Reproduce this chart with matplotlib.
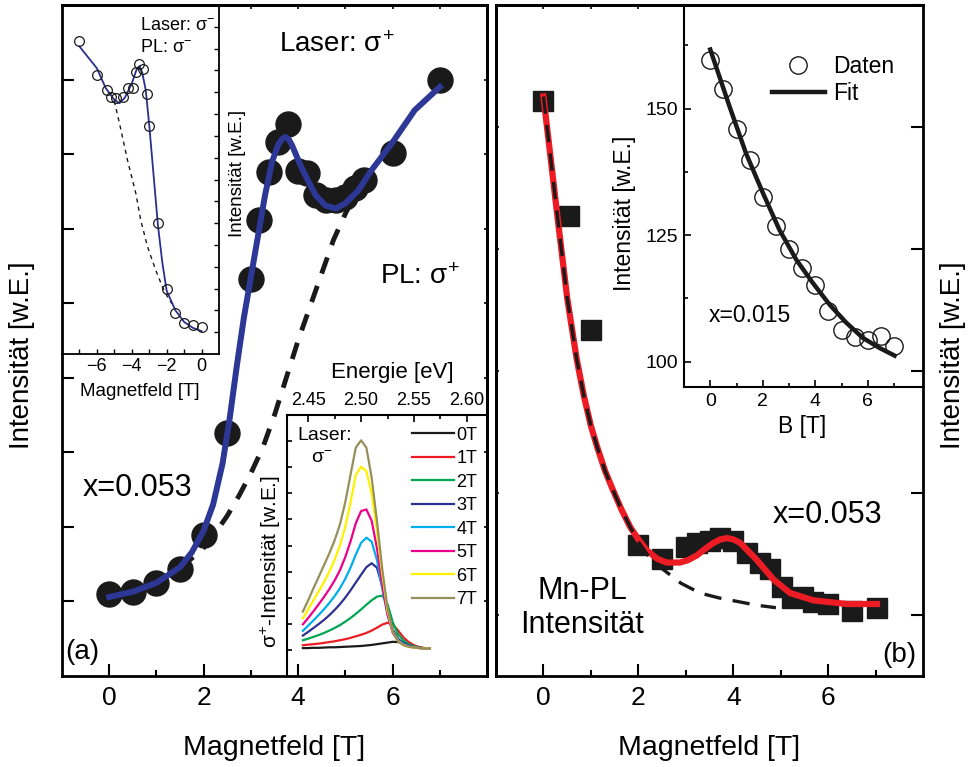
import matplotlib
matplotlib.use('Agg')
import matplotlib.pyplot as plt

plt.rcParams['font.family'] = ['Liberation Sans', 'DejaVu Sans']
plt.rcParams['mathtext.fontset'] = 'custom'
plt.rcParams['mathtext.rm'] = 'Liberation Sans'
plt.rcParams['mathtext.it'] = 'Liberation Sans'
plt.rcParams['mathtext.sf'] = 'Liberation Sans'

W, H = 974, 767

# ---- (a) Laser s+, PL s+ ----
b_a = [0, 0.5, 1.0, 1.5, 2.0, 2.5, 3.0, 3.18, 3.39, 3.58, 3.79, 4.0, 4.19, 4.37,
       4.58, 4.8, 5.0, 5.2, 5.4, 6.0, 7.0]
int_a = [1.10, 1.13, 1.25, 1.43, 1.89, 3.26, 5.33, 6.11, 6.76, 7.16, 7.40, 6.78, 6.74,
         6.45, 6.38, 6.38, 6.42, 6.55, 6.65, 7.01, 7.99]
fit_a_b = [0, 0.5, 1.0, 1.5, 1.75, 2.0, 2.2, 2.4, 2.55, 2.7, 2.85, 3.0, 3.15, 3.3, 3.45,
           3.58, 3.66, 3.73, 3.8, 3.87, 3.95, 4.05, 4.19, 4.37, 4.58, 4.8, 5.0, 5.27, 5.55,
           5.98, 6.47, 7.0]
fit_a = [1.06, 1.13, 1.25, 1.46, 1.66, 1.95, 2.3, 2.85, 3.45, 4.15, 4.8, 5.35, 5.9, 6.45, 6.9,
         7.13, 7.2, 7.23, 7.2, 7.12, 7.0, 6.85, 6.67, 6.45, 6.31, 6.27, 6.34, 6.51, 6.78,
         7.14, 7.59, 7.9]
dash_a_b = [1.5, 1.75, 2.0, 2.25, 2.5, 2.75, 3.0, 3.25, 3.5, 3.75, 4.0, 4.25, 4.5, 4.75, 5.0, 5.2]
dash_a = [1.45, 1.58, 1.72, 1.92, 2.15, 2.42, 2.72, 3.06, 3.5, 4.0, 4.5, 4.95, 5.4, 5.85, 6.2, 6.45]

# ---- inset top left: Laser s-, PL s- ----
b_in = [-7.0, -6.0, -5.4, -5.2, -4.9, -4.5, -4.2, -3.95, -3.75, -3.6, -3.35, -3.15,
        -3.0, -2.5, -2.0, -1.5, -1.0, -0.5, 0.0]
int_in = [14.36, 12.8, 12.11, 11.79, 11.74, 11.79, 12.2, 12.2, 12.94, 13.3, 13.07, 11.93,
          10.46, 6.0, 2.98, 1.88, 1.42, 1.33, 1.24]
fit_in_b = [-7, -6.5, -6, -5.5, -5, -4.7, -4.4, -4.0, -3.7, -3.55, -3.4, -3.2, -3.0,
            -2.75, -2.5, -2.25, -2.0, -1.5, -1.0, -0.5, 0]
fit_in = [14.1, 13.6, 13.1, 12.2, 11.65, 11.5, 11.75, 12.4, 13.1, 13.2, 12.9, 12.1, 10.5,
          8.2, 5.9, 4.2, 2.9, 2.0, 1.47, 1.2, 1.05]
dash_in_b = [-5.0, -4.6, -4.25, -3.77, -3.49, -3.1, -2.63, -2.25, -1.96, -1.7]
dash_in = [11.6, 10.2, 8.9, 7.37, 6.15, 4.92, 3.85, 3.09, 2.63, 2.3]

# ---- inset spectra ----
energie = [2.445, 2.450, 2.455, 2.460, 2.465, 2.470, 2.475, 2.480, 2.485, 2.490, 2.495,
           2.500, 2.505, 2.510, 2.515, 2.520, 2.525, 2.530, 2.535, 2.540, 2.545, 2.550,
           2.555, 2.560, 2.565]
spek_labels = ['0T', '1T', '2T', '3T', '4T', '5T', '6T', '7T']
spek_farben = ['#1a1a1a', '#ed1c24', '#00a651', '#2e3192', '#00aeef', '#ec008c', '#fff200', '#958f5b']
spek_0T = [1.07, 1.07, 1.08, 1.08, 1.09, 1.1, 1.1, 1.11, 1.12, 1.13, 1.14, 1.15, 1.17, 1.19,
           1.22, 1.25, 1.28, 1.31, 1.3, 1.27, 1.2, 1.13, 1.09, 1.06, 1.04]
spek_1T = [1.18, 1.2, 1.22, 1.24, 1.27, 1.3, 1.33, 1.37, 1.41, 1.46, 1.52, 1.58, 1.65, 1.74,
           1.85, 1.97, 2.04, 1.98, 1.74, 1.48, 1.3, 1.18, 1.11, 1.07, 1.05]
spek_2T = [1.37, 1.43, 1.5, 1.57, 1.65, 1.74, 1.84, 1.95, 2.08, 2.22, 2.38, 2.55, 2.73, 2.9,
           3.04, 3.08, 2.75, 2.05, 1.6, 1.36, 1.22, 1.14, 1.09, 1.06, 1.05]
spek_3T = [1.55, 1.69, 1.84, 1.99, 2.15, 2.33, 2.53, 2.75, 3.0, 3.28, 3.58, 3.88, 4.17, 4.32,
           4.15, 3.45, 2.5, 1.78, 1.42, 1.26, 1.17, 1.11, 1.08, 1.06, 1.05]
spek_4T = [1.73, 1.93, 2.13, 2.34, 2.56, 2.8, 3.06, 3.36, 3.72, 4.15, 4.65, 5.1, 5.3, 5.15,
           4.45, 3.35, 2.35, 1.68, 1.37, 1.22, 1.14, 1.1, 1.07, 1.06, 1.05]
spek_5T = [1.98, 2.22, 2.48, 2.75, 3.03, 3.33, 3.66, 4.05, 4.55, 5.15, 5.85, 6.32, 6.38, 5.95,
           4.9, 3.5, 2.35, 1.65, 1.34, 1.2, 1.13, 1.09, 1.07, 1.06, 1.05]
spek_6T = [2.21, 2.55, 2.9, 3.25, 3.6, 4.0, 4.45, 5.0, 5.7, 6.65, 7.7, 8.02, 7.85, 7.0,
           5.55, 3.9, 2.5, 1.7, 1.33, 1.19, 1.12, 1.09, 1.07, 1.06, 1.05]
spek_7T = [2.47, 2.9, 3.36, 3.8, 4.25, 4.7, 5.2, 5.8, 6.65, 7.7, 8.75, 9.03, 8.75, 7.6,
           5.95, 4.1, 2.6, 1.7, 1.32, 1.18, 1.12, 1.09, 1.07, 1.06, 1.05]
spektren = [spek_0T, spek_1T, spek_2T, spek_3T, spek_4T, spek_5T, spek_6T, spek_7T]

# ---- (b) Mn-PL ----
b_b = [0, 0.53, 1.01, 2.0, 2.5, 3.0, 3.24, 3.52, 3.73, 4.0, 4.28, 4.57, 4.78, 5.02, 5.24,
       5.47, 5.69, 6.0, 6.5, 7.03]
int_b = [5.21, 4.27, 3.34, 1.57, 1.46, 1.56, 1.59, 1.61, 1.63, 1.61, 1.51, 1.43, 1.38, 1.23,
         1.14, 1.15, 1.11, 1.09, 1.03, 1.06]
fit_b_b = [0, 0.15, 0.3, 0.5, 0.7, 0.85, 1.0, 1.13, 1.3, 1.47, 1.65, 1.83, 2.0, 2.18, 2.4,
           2.6, 2.88, 3.05, 3.24, 3.4, 3.58, 3.73, 3.87, 4.0, 4.15, 4.5, 4.85, 5.2, 5.69, 6.4, 7.03]
fit_b = [5.25, 4.75, 4.25, 3.6, 3.1, 2.8, 2.55, 2.38, 2.18, 2.02, 1.86, 1.72, 1.62, 1.53, 1.46,
         1.43, 1.43, 1.45, 1.49, 1.54, 1.59, 1.62, 1.63, 1.62, 1.59, 1.45, 1.29, 1.18, 1.12,
         1.09, 1.09]
dash_b_b = [0, 0.15, 0.3, 0.5, 0.7, 0.85, 1.0, 1.13, 1.3, 1.47, 1.65, 1.83, 2.0, 2.2, 2.5,
            2.9, 3.3, 3.7, 4.1, 4.5, 4.9]
dash_b = [5.25, 4.75, 4.25, 3.6, 3.1, 2.8, 2.55, 2.38, 2.18, 2.02, 1.86, 1.72, 1.6, 1.49, 1.38,
          1.26, 1.18, 1.14, 1.11, 1.08, 1.06]

# ---- inset rechts: x=0.015 ----
b_c = [0, 0.5, 1.0, 1.5, 2.0, 2.5, 3.0, 3.5, 4.0, 4.5, 5.0, 5.5, 6.0, 6.5, 7.0]
int_c = [159.7, 153.9, 146.0, 139.8, 132.5, 126.9, 122.3, 118.5, 115.1, 110.1, 106.2, 104.9,
         104.3, 105.0, 103.1]
fit_c_b = [0, 0.73, 1.36, 2.0, 2.63, 3.27, 3.9, 4.54, 5.18, 5.81, 6.45, 7.02]
fit_c = [161.7, 150.5, 141.2, 133.4, 126.1, 120.2, 115.6, 111.3, 107.7, 104.7, 102.7, 101.2]


def box(x0, y0, x1, y1):
    return [x0 / W, 1 - y1 / H, (x1 - x0) / W, (y1 - y0) / H]


def txt(x, y, s, **kw):
    kw.setdefault('va', 'center')
    fig.text(x / W, 1 - y / H, s, **kw)


fig = plt.figure(figsize=(W / 100, H / 100), dpi=100)

# ---------------- panel (a) ----------------
ax = fig.add_axes(box(62, 5, 487, 676))
ax.plot(dash_a_b, dash_a, color='#1a1a1a', lw=3.5, dashes=(3.5, 2.7), zorder=2)
ax.plot(b_a, int_a, 'o', color='#1a1a1a', ms=18, zorder=3)
ax.plot(fit_a_b, fit_a, color='#2d3796', lw=4.3, zorder=4, solid_joinstyle='round')
ax.set_xlim(-1, 8)
ax.set_ylim(0, 9)
ax.set_xticks([0, 2, 4, 6])
ax.set_xticks([1, 3, 5, 7], minor=True)
ax.set_yticks(range(1, 9))
ax.tick_params(axis='x', which='major', direction='in', length=8.6, width=1.5, labelsize=19, pad=7)
ax.tick_params(axis='x', which='minor', direction='in', length=4.3, width=1.5)
ax.tick_params(axis='y', direction='in', length=8.6, width=1.5, labelleft=False)
for s in ax.spines.values():
    s.set_linewidth(2)
sx = ax.secondary_xaxis('top')
sx.set_xticks([3, 4, 5, 6, 7])
sx.tick_params(direction='in', length=3, width=1.2, labeltop=False)
sx.spines['top'].set_linewidth(2)
sy = ax.secondary_yaxis('right')
sy.set_yticks(range(1, 9))
sy.tick_params(direction='in', length=2.5, width=1.2, labelright=False)
sy.spines['right'].set_linewidth(2)

# inset top left
ai = fig.add_axes(box(62, 5, 219, 354), facecolor='none')
ai.plot(dash_in_b, dash_in, color='#1a1a1a', lw=1.0, dashes=(3, 3))
ai.plot(fit_in_b, fit_in, color='#2a2f8f', lw=1.3)
ai.plot(b_in, int_in, 'o', mfc='none', mec='#1a1a1a', ms=7, mew=0.9)
ai.set_xlim(-8, 1)
ai.set_ylim(0, 16)
ai.spines['left'].set_visible(False)
ai.spines['top'].set_visible(False)
for s in ('right', 'bottom'):
    ai.spines[s].set_linewidth(1.3)
ai.set_xticks([-6, -4, -2, 0])
ai.set_xticks([-7, -5, -3, -1], minor=True)
ai.set_yticks(range(1, 16))
ai.yaxis.tick_right()
ai.tick_params(which='both', direction='in', length=3.5, width=1, labelsize=13, pad=3,
               labelright=False)

# inset spectra
asp = fig.add_axes(box(287, 415, 487, 676), facecolor='none')
for lab, col, ys in zip(spek_labels, spek_farben, spektren):
    asp.plot(energie, ys, color=col, lw=1.6, label=lab, solid_joinstyle='round')
asp.set_xlim(2.43, 2.619)
asp.set_ylim(0, 10)
asp.spines['right'].set_visible(False)
asp.spines['bottom'].set_visible(False)
for s in ('left', 'top'):
    asp.spines[s].set_linewidth(1.5)
asp.xaxis.tick_top()
asp.set_xticks([2.45, 2.50, 2.55, 2.60])
asp.set_xticklabels(['2.45', '2.50', '2.55', '2.60'])
asp.set_xticks([2.475, 2.525, 2.575], minor=True)
asp.set_yticks(range(1, 10))
asp.tick_params(axis='x', which='major', direction='in', length=5, width=1.2, labelsize=13, pad=4)
asp.tick_params(axis='x', which='minor', direction='in', length=3, width=1.2)
asp.tick_params(axis='y', direction='in', length=3.5, width=1.2, labelleft=False)
asp.legend(loc='upper left', bbox_to_anchor=(0.625, 0.955), frameon=False, borderpad=0,
           borderaxespad=0, handlelength=2.3, handletextpad=0.15, labelspacing=0.36,
           fontsize=13)

# texts (a)
txt(22, 355, 'Intensität [w.E.]', fontsize=20, rotation=90, ha='center')
txt(274, 748, 'Magnetfeld [T]', fontsize=20.5, ha='center')
txt(279, 45, r'Laser: $\sigma^{+}$', fontsize=20)
txt(380, 277, r'PL: $\sigma^{+}$', fontsize=20)
txt(238, 173, 'Intensität [w.E.]', fontsize=13.5, rotation=90, ha='center')
txt(83, 488, 'x=0.053', fontsize=22)
txt(65, 652, '(a)', fontsize=20)
txt(140, 25, r'Laser: $\sigma^{-}$', fontsize=13)
txt(140, 47, r'PL: $\sigma^{-}$', fontsize=13)
txt(140, 392, 'Magnetfeld [T]', fontsize=13.5, ha='center')
txt(392, 373, 'Energie [eV]', fontsize=16, ha='center')
txt(297, 435, 'Laser:', fontsize=14)
txt(322, 458, r'$\sigma^{-}$', fontsize=14, ha='center')
txt(271, 562, r'$\sigma^{+}$-Intensität [w.E.]', fontsize=15, rotation=90, ha='center')

# ---------------- panel (b) ----------------
bx = fig.add_axes(box(496, 5, 923, 676))
bx.plot(b_b, int_b, 's', color='#1a1a1a', ms=15, zorder=2)
bx.plot(fit_b_b, fit_b, color='#ed1c24', lw=4.5, zorder=3, solid_joinstyle='round')
bx.plot(dash_b_b, dash_b, color='#1a1a1a', lw=2.4, dashes=(5.2, 3.4), zorder=4)
bx.set_xlim(-1, 8)
bx.set_ylim(0.5, 6)
bx.set_xticks([0, 2, 4, 6])
bx.set_xticks([1, 3, 5, 7], minor=True)
bx.yaxis.tick_right()
bx.set_yticks(range(1, 7))
bx.tick_params(axis='x', which='major', direction='in', length=8.6, width=1.5, labelsize=19, pad=7)
bx.tick_params(axis='x', which='minor', direction='in', length=4.3, width=1.5)
bx.tick_params(axis='y', direction='in', length=8.6, width=1.5, labelright=False)
for s in bx.spines.values():
    s.set_linewidth(2)
tx = bx.secondary_xaxis('top')
tx.set_xticks([0, 1, 2])
tx.tick_params(direction='in', length=3, width=1.2, labeltop=False)
tx.spines['top'].set_linewidth(2)
ly = bx.secondary_yaxis('left')
ly.set_yticks(range(1, 6))
ly.tick_params(direction='in', length=2.5, width=1.2, labelleft=False)
ly.spines['left'].set_linewidth(2)

# inset right
ar = fig.add_axes(box(684, 5, 923, 387), facecolor='none')
ar.plot(b_c, int_c, 'o', mfc='none', mec='#1a1a1a', ms=12.5, mew=1.0, label='Daten')
ar.plot(fit_c_b, fit_c, color='#1a1a1a', lw=3.2, label='Fit', solid_joinstyle='round')
ar.set_xlim(-1, 8.1)
ar.set_ylim(95, 170.5)
ar.spines['top'].set_visible(False)
ar.spines['right'].set_visible(False)
for s in ('left', 'bottom'):
    ar.spines[s].set_linewidth(1.5)
ar.set_xticks([0, 2, 4, 6])
ar.set_xticks([1, 3, 5, 7], minor=True)
ar.set_yticks([100, 125, 150])
ar.set_yticks([112.5, 137.5, 162.5], minor=True)
ar.tick_params(which='major', direction='in', length=5, width=1.2, labelsize=14, pad=4)
ar.tick_params(which='minor', direction='in', length=3, width=1.2)
ar.legend(loc='upper left', bbox_to_anchor=(0.368, 0.87), frameon=False, borderpad=0,
          borderaxespad=0, handlelength=2.3, handletextpad=0.35, labelspacing=0.2,
          fontsize=16.5, numpoints=1)

# texts (b)
txt(953, 355, 'Intensität [w.E.]', fontsize=20, rotation=90, ha='center')
txt(709, 748, 'Magnetfeld [T]', fontsize=20.5, ha='center')
txt(773, 515, 'x=0.053', fontsize=22)
txt(582, 591, 'Mn-PL', fontsize=22, ha='center')
txt(582, 625, 'Intensität', fontsize=22, ha='center')
txt(882, 655, '(b)', fontsize=20)
txt(625, 213, 'Intensität [w.E.]', fontsize=16.5, rotation=90, ha='center')
txt(709, 315, 'x=0.015', fontsize=16.5)
txt(802, 427, 'B [T]', fontsize=16.5, ha='center')

fig.savefig('out.png', dpi=100)
